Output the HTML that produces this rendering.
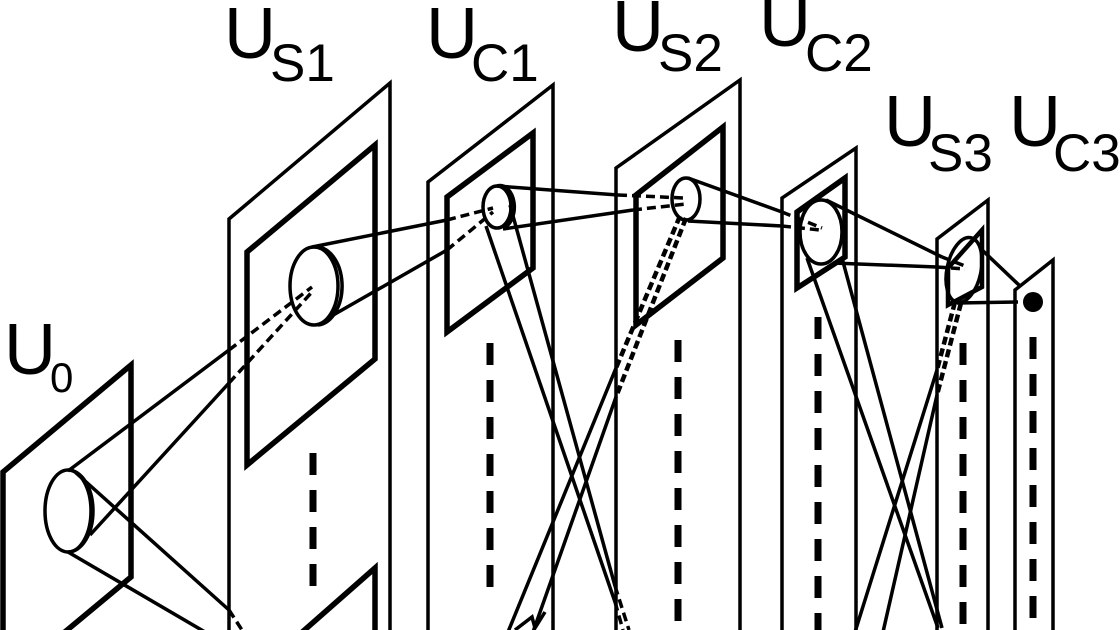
<!DOCTYPE html>
<html><head><meta charset="utf-8"><style>html,body{margin:0;padding:0;background:#fff}svg{display:block}</style></head>
<body>
<svg width="1120" height="630" viewBox="0 0 1120 630" xmlns="http://www.w3.org/2000/svg">
<g font-family="Liberation Sans, Arial, sans-serif" fill="#000">
<text x="4" y="374" font-size="72">U</text><text x="50" y="392" font-size="42">0</text>
<text x="224" y="58" font-size="72">U</text><text x="270" y="81" font-size="53">S1</text>
<text x="426" y="58" font-size="72">U</text><text x="471" y="81" font-size="53">C1</text>
<text x="612" y="51" font-size="72">U</text><text x="658" y="71" font-size="53">S2</text>
<text x="759" y="46" font-size="72">U</text><text x="805" y="71" font-size="53">C2</text>
<text x="884" y="146" font-size="72">U</text><text x="928" y="171" font-size="53">S3</text>
<text x="1009" y="146" font-size="72">U</text><text x="1053" y="171" font-size="53">C3</text>
</g>
<g fill="none" stroke="#000" stroke-linejoin="miter">
<polyline points="3,640 3,472 131,365 131,577 60,636" stroke-width="5.5"/>
<polyline points="229,640 229,219 390,83 390,640" stroke-width="3.5"/>
<polygon points="247,252 375,145 375,359 247,465" stroke-width="5.5"/>
<polyline points="300,634 375,568 375,640" stroke-width="5.5"/>
<polyline points="428,640 428,182 553,85 553,640" stroke-width="3.5"/>
<polygon points="447,197 533,133 533,268 447,332" stroke-width="5.5"/>
<polyline points="616,640 616,168 740,80 740,640" stroke-width="3.5"/>
<polygon points="636,195 723,127 723,258 636,325" stroke-width="5.5"/>
<polyline points="782,640 782,198 856,148 856,640" stroke-width="3.5"/>
<polygon points="797,212 845,178 845,257 797,288" stroke-width="5.5"/>
<polyline points="937,640 937,239 988,200 988,640" stroke-width="3.5"/>
<polygon points="948,268 982,230 982,287 948,305" stroke-width="4.5"/>
<polyline points="1015,640 1015,290 1053,260 1053,640" stroke-width="3.5"/>
<g stroke-width="7" stroke-dasharray="22,15">
<line x1="313" y1="453" x2="313" y2="590"/>
<line x1="490" y1="343" x2="490" y2="592"/>
<line x1="678" y1="340" x2="678" y2="630"/>
<line x1="818" y1="317" x2="818" y2="630"/>
<line x1="963" y1="343" x2="963" y2="630"/>
<line x1="1033" y1="337" x2="1033" y2="630"/>
</g>
<g stroke-width="3.5">
<ellipse cx="68" cy="511" rx="23" ry="41"/>
<path d="M68,470 A25,41 0 0 1 68,552"/>
<ellipse cx="314" cy="286" rx="24" ry="39"/>
<path d="M314,247 A26,39 0 0 1 318,325"/>
<ellipse cx="497" cy="207" rx="14" ry="21"/>
<path d="M497,186 A14,21 0 0 1 503,228"/>
<ellipse cx="686" cy="199" rx="14" ry="21"/>
<ellipse cx="821" cy="232" rx="21" ry="32"/>
<ellipse cx="964" cy="270" rx="17" ry="33" transform="rotate(12 964 270)"/>
<line x1="68" y1="471" x2="229" y2="350"/>
<line x1="90" y1="535" x2="229" y2="383"/>
<line x1="75" y1="472" x2="229" y2="610"/>
<line x1="68" y1="552" x2="205" y2="632"/>
<line x1="312" y1="247" x2="447" y2="220"/>
<line x1="328" y1="318" x2="447" y2="250"/>
<line x1="497" y1="186" x2="618" y2="195"/>
<line x1="503" y1="229" x2="633" y2="210"/>
<line x1="486" y1="226" x2="615" y2="602"/>
<line x1="510" y1="205" x2="615" y2="586"/>
<line x1="616" y1="368" x2="508" y2="632"/>
<line x1="616" y1="397" x2="533" y2="632"/>
<polyline points="515,630 532,617 535,628 545,612"/>
<line x1="688" y1="178" x2="782" y2="212"/>
<line x1="688" y1="221" x2="782" y2="226"/>
<line x1="826" y1="200" x2="942" y2="257"/>
<line x1="833" y1="263" x2="937" y2="267"/>
<line x1="807" y1="258" x2="938" y2="628"/>
<line x1="842" y1="258" x2="942" y2="628"/>
<line x1="937" y1="370" x2="855" y2="632"/>
<line x1="937" y1="395" x2="883" y2="632"/>
<line x1="980" y1="248" x2="1020" y2="286"/>
<line x1="957" y1="303" x2="1018" y2="302"/>
</g>
<g stroke-width="3.5" stroke-dasharray="9,5">
<line x1="229" y1="350" x2="312" y2="287"/>
<line x1="229" y1="383" x2="312" y2="292"/>
<line x1="229" y1="610" x2="242" y2="630"/>
<line x1="447" y1="220" x2="493" y2="208"/>
<line x1="447" y1="250" x2="493" y2="212"/>
<line x1="618" y1="195" x2="684" y2="198"/>
<line x1="633" y1="210" x2="686" y2="204"/>
<line x1="615" y1="602" x2="623" y2="630"/>
<line x1="615" y1="586" x2="629" y2="630"/>
<line x1="782" y1="212" x2="822" y2="228"/>
<line x1="782" y1="226" x2="820" y2="230"/>
<line x1="942" y1="257" x2="965" y2="266"/>
<line x1="937" y1="267" x2="965" y2="269"/>
</g>
<g stroke-width="4.5" stroke-dasharray="8,4">
<line x1="680" y1="216" x2="616" y2="368"/>
<line x1="686" y1="218" x2="616" y2="397"/>
<line x1="955" y1="302" x2="937" y2="370"/>
<line x1="961" y1="303" x2="937" y2="395"/>
</g>
</g>
<circle cx="1033" cy="302" r="10" fill="#000"/>
</svg>
</body></html>
